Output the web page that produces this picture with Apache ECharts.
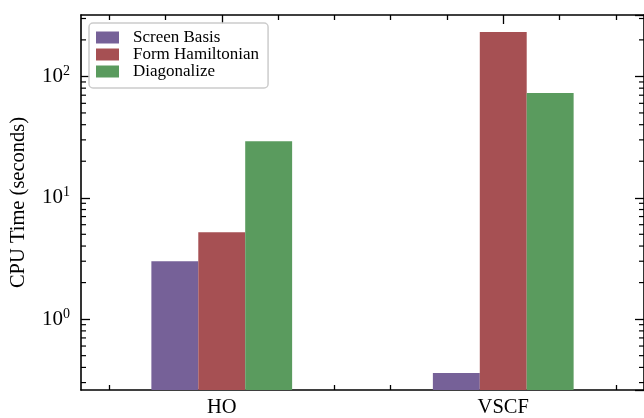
<!DOCTYPE html>
<html>
<head>
<meta charset="utf-8">
<script src="https://cdn.jsdelivr.net/npm/echarts@6/dist/echarts.min.js"></script>
<style>html,body{margin:0;padding:0;background:#fff}#c{width:644px;height:418px}</style>
</head>
<body>
<div id="c"></div>
<script>
const categories = ['HO', 'VSCF'];
const seriesNames = ['Screen Basis', 'Form Hamiltonian', 'Diagonalize'];
const screenBasis = [3.0, 0.36];
const formHamiltonian = [5.2, 232];
const diagonalize = [29.2, 73];
const yMin = 0.2606, yMax = 320.6;
const xMajorTicks = [0, 1];
const xMinorTicks = [-0.4, -0.2, 0.2, 0.4, 0.6, 0.8, 1.2, 1.4];
const yMinorTicks = [0.3, 0.4, 0.5, 0.6, 0.7, 0.8, 0.9, 2, 3, 4, 5, 6, 7, 8, 9, 20, 30, 40, 50, 60, 70, 80, 90, 200, 300];

const colors = ['#766198', '#A65053', '#5A9B5E'];
const FONT = '"Liberation Serif", "DejaVu Serif", serif';
const barW = 1 / 6;
const offsets = [-barW, 0, barW];
const allSeries = [screenBasis, formHamiltonian, diagonalize];

const chart = echarts.init(document.getElementById('c'), null, {renderer: 'canvas'});

function xAxisDef(pos, ticks, len, showLine, labels) {
  return {
    type: 'value', min: -0.5, max: 1.5, position: pos,
    axisLine: {show: showLine, onZero: false, lineStyle: {color: '#000', width: 1.6}},
    axisTick: {show: true, inside: true, length: len, customValues: ticks, lineStyle: {color: '#000', width: 1.3}},
    axisLabel: labels ? {
      show: true, customValues: xMajorTicks, formatter: v => categories[Math.round(v)],
      fontSize: 20.5, color: '#000', fontFamily: FONT, margin: 7
    } : {show: false},
    splitLine: {show: false}
  };
}

const barSeries = seriesNames.map((name, si) => ({
  type: 'custom', name: name,
  itemStyle: {color: colors[si]},
  data: allSeries[si].map((v, i) => [i, v]),
  encode: {x: 0, y: 1},
  renderItem: function (params, api) {
    const c = api.value(0) + offsets[si];
    const v = api.value(1);
    const p1 = api.coord([c - barW / 2, v]);
    const p2 = api.coord([c + barW / 2, yMin]);
    return {
      type: 'rect',
      shape: {x: p1[0], y: p1[1], width: p2[0] - p1[0], height: p2[1] - p1[1]},
      style: {fill: colors[si]}
    };
  },
  z: 2
}));

const minorTickSeries = {
  type: 'custom', name: 'minor', silent: true, legendHoverLink: false,
  data: yMinorTicks.map(v => [0, v]),
  encode: {x: 0, y: 1},
  clip: false,
  renderItem: function (params, api) {
    const v = api.value(1);
    const l = api.coord([-0.5, v]);
    const r = api.coord([1.5, v]);
    return {
      type: 'group',
      children: [
        {type: 'line', shape: {x1: l[0], y1: l[1], x2: l[0] + 5, y2: l[1]}, style: {stroke: '#000', lineWidth: 1.2}},
        {type: 'line', shape: {x1: r[0], y1: r[1], x2: r[0] - 5, y2: r[1]}, style: {stroke: '#000', lineWidth: 1.2}}
      ]
    };
  },
  z: 5
};

const option = {
  animation: false,
  backgroundColor: '#fff',
  grid: {left: 80, top: 15, width: 571.5, height: 378, containLabel: false},
  legend: {
    data: seriesNames,
    orient: 'vertical', left: 89, top: 23,
    itemWidth: 23, itemHeight: 12, itemGap: 0,
    icon: 'rect',
    padding: [6, 9, 8, 7],
    backgroundColor: 'rgba(255,255,255,0.85)',
    borderColor: '#cccccc', borderWidth: 1.5, borderRadius: 4,
    textStyle: {fontSize: 17, fontFamily: FONT, color: '#000', lineHeight: 16, padding: [0, 0, 0, 9]}
  },
  xAxis: [
    xAxisDef('bottom', xMajorTicks, 9, true, true),
    xAxisDef('bottom', xMinorTicks, 5, false, false),
    xAxisDef('top', xMajorTicks, 9, true, false),
    xAxisDef('top', xMinorTicks, 5, false, false)
  ],
  yAxis: [
    {
      type: 'log', logBase: 10, min: yMin, max: yMax, position: 'left',
      name: 'CPU Time (seconds)', nameLocation: 'middle', nameGap: 52,
      nameTextStyle: {fontSize: 20.5, fontFamily: FONT, color: '#000'},
      axisLine: {show: true, onZero: false, lineStyle: {color: '#000', width: 1.6}},
      axisTick: {show: true, inside: true, length: 9, lineStyle: {color: '#000', width: 1.3}},
      axisLabel: {
        show: true, showMinLabel: false, showMaxLabel: false, margin: 11,
        formatter: function (v) { const e = Math.round(Math.log10(v)); return '{b|10}{s|' + e + '}'; },
        rich: {
          b: {fontSize: 21, fontFamily: FONT, color: '#000'},
          s: {fontSize: 14, fontFamily: FONT, color: '#000', padding: [0, 0, 10, 0]}
        }
      },
      splitLine: {show: false}
    },
    {
      type: 'log', logBase: 10, min: yMin, max: yMax, position: 'right',
      axisLine: {show: true, onZero: false, lineStyle: {color: '#000', width: 1.6}},
      axisTick: {show: true, inside: true, length: 9, lineStyle: {color: '#000', width: 1.3}},
      axisLabel: {show: false},
      splitLine: {show: false}
    }
  ],
  series: barSeries.concat([minorTickSeries])
};
chart.setOption(option);
</script>
</body>
</html>
